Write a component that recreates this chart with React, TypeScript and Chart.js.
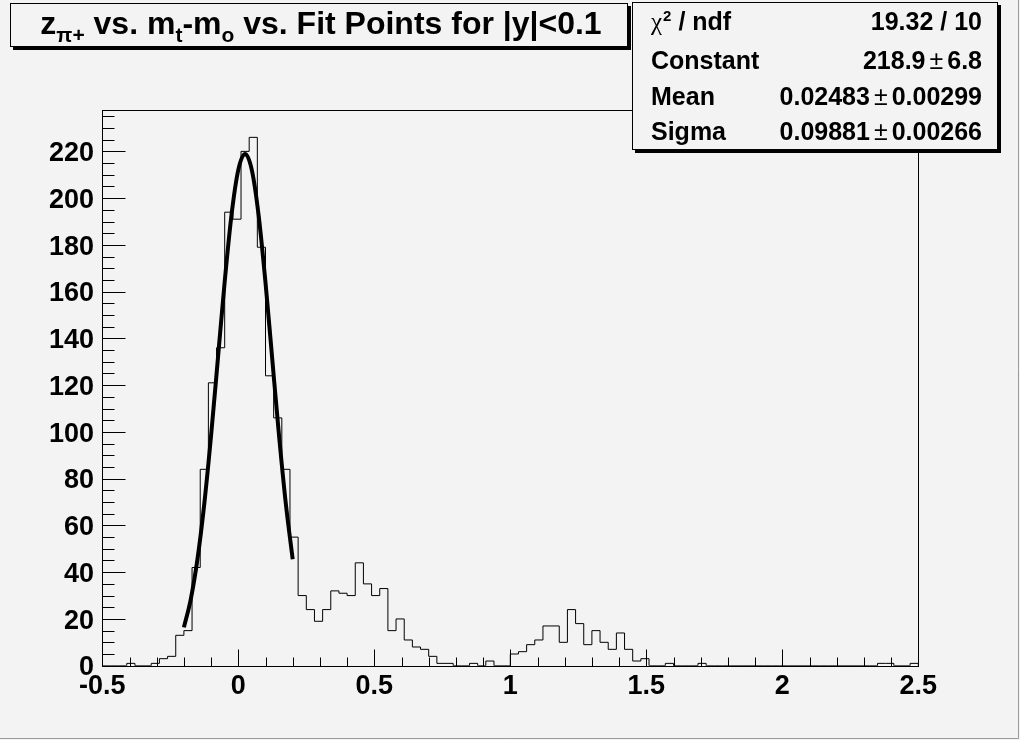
import React, { useEffect, useRef } from "react";
import { Chart, registerables } from "chart.js";

Chart.register(...registerables);

// ---------- data ----------
const X_MIN = -0.5;
const X_MAX = 2.5;
const BIN_WIDTH = 0.03;
const Y_MAX = 237.7;

// 100 bins from -0.5 to 2.5
const binCounts = [
  0, 0, 0, 1, 0, 0, 1, 3, 4, 13,
  15, 42, 84, 121, 136, 194, 191, 220, 226, 179,
  124, 106, 84, 55, 30, 24, 19, 24, 32, 31,
  30, 44, 35, 30, 33, 15, 20, 11, 8, 7,
  4, 1, 1, 0, 0, 1, 0, 2, 0, 0,
  5, 6, 9, 11, 17, 17, 10, 24, 18, 9,
  15, 10, 7, 14, 7, 2, 3, 0, 0, 1,
  0, 0, 0, 1, 0, 0, 0, 0, 0, 0,
  0, 0, 0, 0, 0, 0, 0, 0, 0, 0,
  0, 0, 0, 0, 0, 1, 1, 0, 0, 1,
];

// Gaussian fit curve, read at these x positions
const fitX = [
  -0.2, -0.175, -0.15, -0.125, -0.1, -0.075, -0.05, -0.025, 0,
  0.025, 0.05, 0.075, 0.1, 0.125, 0.15, 0.175, 0.2,
];
const fitY = [
  16.4, 28.3, 45.7, 69.3, 98.5, 131.4, 164.3, 192.8, 212.1,
  218.9, 211.9, 192.4, 163.9, 130.9, 98.1, 69.0, 45.5,
];

const xTickValues = [-0.5, 0, 0.5, 1, 1.5, 2, 2.5];
const xTickLabels = ["-0.5", "0", "0.5", "1", "1.5", "2", "2.5"];
const yTickValues = [0, 20, 40, 60, 80, 100, 120, 140, 160, 180, 200, 220];
const yTickLabels = ["0", "20", "40", "60", "80", "100", "120", "140", "160", "180", "200", "220"];

const statNames = ["Constant", "Mean", "Sigma"];
const statValues = ["218.9", "0.02483", "0.09881"];
const statErrors = ["6.8", "0.00299", "0.00266"];
const chi2Value = "19.32 / 10";

// title pieces: [text, isSubscript]
const titleParts: [string, boolean][] = [
  ["z", false],
  ["\u03c0+", true],
  [" vs. m", false],
  ["t", true],
  ["-m", false],
  ["o", true],
  [" vs. Fit Points for |y|<0.1", false],
];

// ---------- style ----------
const BG = "#f3f3f3";
const SANS = "'Liberation Sans', Arial, Helvetica, sans-serif";
const SERIF = "'Liberation Serif', 'Times New Roman', serif";

function drawPave(ctx: CanvasRenderingContext2D, x0: number, y0: number, x1: number, y1: number) {
  const s = 3;
  ctx.fillStyle = "#000";
  ctx.fillRect(x1, y0 + s, s, y1 - y0);
  ctx.fillRect(x0 + s, y1, x1 - x0, s);
  ctx.fillStyle = BG;
  ctx.fillRect(x0, y0, x1 - x0, y1 - y0);
  ctx.strokeStyle = "#000";
  ctx.lineWidth = 1;
  ctx.strokeRect(x0 + 0.5, y0 + 0.5, x1 - x0 - 1, y1 - y0 - 1);
  ctx.fillStyle = "#000";
}

const decorPlugin = {
  id: "rootDecor",
  beforeDraw(chart: any) {
    const ctx = chart.ctx as CanvasRenderingContext2D;
    ctx.save();
    ctx.fillStyle = BG;
    ctx.fillRect(0, 0, chart.width, chart.height);
    ctx.strokeStyle = "#9a9a9a";
    ctx.lineWidth = 1;
    ctx.beginPath();
    ctx.moveTo(chart.width - 1.5, 0);
    ctx.lineTo(chart.width - 1.5, chart.height - 1.5);
    ctx.lineTo(0, chart.height - 1.5);
    ctx.stroke();
    ctx.restore();
  },
  afterDraw(chart: any) {
    const ctx = chart.ctx as CanvasRenderingContext2D;
    const xs = chart.scales.x;
    const ys = chart.scales.y;
    const area = chart.chartArea;
    const L = Math.round(area.left) + 0.5;
    const R = Math.round(area.right) + 0.5;
    const T = Math.round(area.top) + 0.5;
    const B = Math.round(area.bottom) + 0.5;
    ctx.save();
    // frame
    ctx.strokeStyle = "#000";
    ctx.lineWidth = 1;
    ctx.strokeRect(L, T, R - L, B - T);

    // x ticks (inside)
    ctx.beginPath();
    for (let i = 0; i <= 30; i++) {
      const v = X_MIN + i * 0.1;
      const px = Math.round(xs.getPixelForValue(v)) + 0.5;
      const major = i % 5 === 0;
      ctx.moveTo(px, B);
      ctx.lineTo(px, B - (major ? 17 : 9));
    }
    // y ticks (inside)
    for (let v = 0; v <= Y_MAX; v += 5) {
      const py = Math.round(ys.getPixelForValue(v)) + 0.5;
      const major = v % 20 === 0;
      ctx.moveTo(L, py);
      ctx.lineTo(L + (major ? 23 : 12), py);
    }
    ctx.stroke();

    // tick labels
    ctx.fillStyle = "#000";
    ctx.font = `bold 27px ${SANS}`;
    ctx.textBaseline = "alphabetic";
    ctx.textAlign = "right";
    yTickValues.forEach((v, i) => {
      const py = ys.getPixelForValue(v);
      ctx.fillText(yTickLabels[i], 94, py + 0.358 * 27);
    });
    ctx.textAlign = "center";
    xTickValues.forEach((v, i) => {
      const px = xs.getPixelForValue(v);
      ctx.fillText(xTickLabels[i], px, 694);
    });

    // title box
    drawPave(ctx, 10, 3, 628, 47);
    const mainFont = `bold 32px ${SANS}`;
    const subFont = `bold 21px ${SANS}`;
    let total = 0;
    titleParts.forEach(([t, sub]) => {
      ctx.font = sub ? subFont : mainFont;
      total += ctx.measureText(t).width;
    });
    let cx = 321 - total / 2;
    ctx.textAlign = "left";
    ctx.fillStyle = "#000";
    titleParts.forEach(([t, sub]) => {
      ctx.font = sub ? subFont : mainFont;
      ctx.fillText(t, cx, sub ? 42 : 33.5);
      cx += ctx.measureText(t).width;
    });

    // stats box
    drawPave(ctx, 632, 2, 998, 150);
    ctx.fillStyle = "#000";
    const rowBase = [29.5, 68.5, 104.5, 139.5];
    const statFont = `bold 25px ${SANS}`;
    // chi2 row
    ctx.textAlign = "left";
    ctx.font = `25px ${SERIF}`;
    ctx.fillText("\u03c7", 651, rowBase[0]);
    let sx = 651 + ctx.measureText("\u03c7").width + 1;
    ctx.font = `bold 15px ${SANS}`;
    ctx.fillText("2", sx, rowBase[0] - 9);
    sx += ctx.measureText("2").width;
    ctx.font = statFont;
    ctx.fillText(" / ndf", sx, rowBase[0]);
    ctx.textAlign = "right";
    ctx.fillText(chi2Value, 982, rowBase[0]);
    statNames.forEach((n, i) => {
      const by = rowBase[i + 1];
      ctx.textAlign = "left";
      ctx.font = statFont;
      ctx.fillText(n, 651, by);
      ctx.textAlign = "right";
      ctx.fillText(statErrors[i], 982, by);
      let ex = 982 - ctx.measureText(statErrors[i]).width - 4;
      ctx.font = `25px ${SANS}`;
      ctx.fillText("\u00b1", ex, by);
      ex -= ctx.measureText("\u00b1").width + 4;
      ctx.font = statFont;
      ctx.fillText(statValues[i], ex, by);
    });
    ctx.restore();
  },
};

export default function App() {
  const ref = useRef<HTMLCanvasElement | null>(null);
  useEffect(() => {
    document.body.style.margin = "0";
    const canvas = ref.current;
    if (!canvas) return;
    const histPoints = binCounts.map((c, i) => ({ x: X_MIN + i * BIN_WIDTH, y: c }));
    histPoints.push({ x: X_MAX, y: binCounts[binCounts.length - 1] });
    histPoints.push({ x: X_MAX, y: 0 });
    const fitPoints = fitX.map((x, i) => ({ x, y: fitY[i] }));
    const chart = new Chart(canvas, {
      type: "line",
      data: {
        datasets: [
          {
            label: "hist",
            data: histPoints,
            stepped: "before",
            borderColor: "#000",
            borderWidth: 1,
            pointRadius: 0,
            fill: false,
          },
          {
            label: "fit",
            data: fitPoints,
            borderColor: "#000",
            borderWidth: 4,
            pointRadius: 0,
            cubicInterpolationMode: "monotone",
            fill: false,
          },
        ],
      },
      options: {
        responsive: false,
        animation: false,
        devicePixelRatio: 1,
        layout: { padding: { left: 102.3, right: 101.7, top: 110, bottom: 74.3 } },
        plugins: { legend: { display: false }, tooltip: { enabled: false }, title: { display: false } },
        scales: {
          x: { type: "linear", min: X_MIN, max: X_MAX, display: false },
          y: { type: "linear", min: 0, max: Y_MAX, display: false },
        },
        events: [],
      },
      plugins: [decorPlugin],
    } as any);
    return () => chart.destroy();
  }, []);
  return <canvas ref={ref} width={1020} height={740} style={{ display: "block", width: 1020, height: 740 }} />;
}
